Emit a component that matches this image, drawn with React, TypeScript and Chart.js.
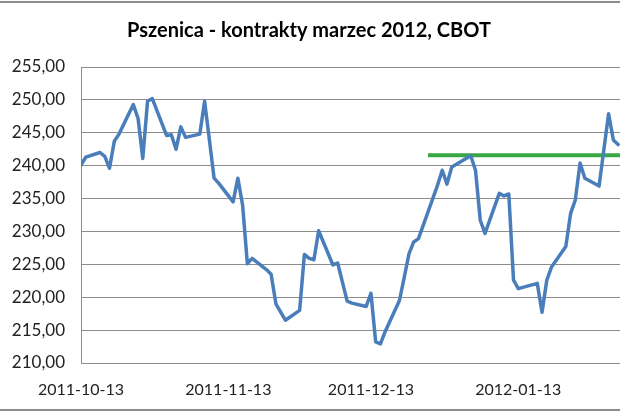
import React, { useEffect, useRef } from "react";
import { Chart, registerables } from "chart.js";

Chart.register(...registerables);

const chartTitle = "Pszenica - kontrakty marzec 2012, CBOT";
const originDate = "2011-10-13";

const priceDates = [
  "2011-10-13", "2011-10-14", "2011-10-17", "2011-10-18", "2011-10-19", "2011-10-20", "2011-10-21",
  "2011-10-24", "2011-10-25", "2011-10-26", "2011-10-27", "2011-10-28", "2011-10-31",
  "2011-11-01", "2011-11-02", "2011-11-03", "2011-11-04", "2011-11-07", "2011-11-08", "2011-11-09",
  "2011-11-10", "2011-11-11", "2011-11-14", "2011-11-15", "2011-11-16", "2011-11-17", "2011-11-18",
  "2011-11-21", "2011-11-22", "2011-11-23", "2011-11-25", "2011-11-28", "2011-11-29", "2011-11-30",
  "2011-12-01", "2011-12-02", "2011-12-05", "2011-12-06", "2011-12-07", "2011-12-08", "2011-12-09",
  "2011-12-12", "2011-12-13", "2011-12-14", "2011-12-15", "2011-12-16", "2011-12-19", "2011-12-20",
  "2011-12-21", "2011-12-22", "2011-12-23", "2011-12-27", "2011-12-28", "2011-12-29", "2011-12-30",
  "2012-01-03", "2012-01-04", "2012-01-05", "2012-01-06", "2012-01-09", "2012-01-10", "2012-01-11",
  "2012-01-12", "2012-01-13", "2012-01-17", "2012-01-18", "2012-01-19", "2012-01-20", "2012-01-23",
  "2012-01-24", "2012-01-25", "2012-01-26", "2012-01-27", "2012-01-30", "2012-01-31", "2012-02-01",
  "2012-02-02", "2012-02-03",
];

const prices = [
  240.1, 241.3, 242.0, 241.4, 239.6, 243.7, 244.8,
  249.3, 247.2, 241.1, 249.8, 250.2, 244.6,
  244.7, 242.5, 245.9, 244.3, 244.8, 249.8, 244.0,
  238.1, 237.3, 234.5, 238.1, 234.0, 225.1, 225.9,
  224.2, 223.5, 219.0, 216.5, 218.0, 226.5, 225.9,
  225.7, 230.1, 224.9, 225.2, 222.3, 219.4, 219.1,
  218.6, 220.6, 213.2, 212.9, 214.8, 219.5, 223.0,
  226.6, 228.4, 228.9, 237.0, 239.3, 237.2, 239.8,
  241.5, 239.3, 231.7, 229.7, 235.8, 235.4, 235.7,
  222.6, 221.3, 222.1, 217.7, 222.6, 224.6, 227.7,
  232.7, 234.8, 240.4, 238.1, 236.9, 242.4, 247.9,
  243.9, 243.2,
];

const levelDates = ["2011-12-25", "2012-02-10"];
const levelValues = [241.6, 241.6];

const xTickDates = ["2011-10-13", "2011-11-13", "2011-12-13", "2012-01-13"];
const visibleDays = 113.4;
const yMin = 210;
const yMax = 255;
const yStep = 5;

function dayOf(s: string): number {
  const [y, m, d] = s.split("-").map(Number);
  const [y0, m0, d0] = originDate.split("-").map(Number);
  return Math.round((Date.UTC(y, m - 1, d) - Date.UTC(y0, m0 - 1, d0)) / 86400000);
}

const FONT = "Lato, 'Open Sans', sans-serif";

const titlePlugin = {
  id: "customTitle",
  afterDraw(chart: any) {
    const ctx = chart.ctx;
    ctx.save();
    ctx.font = `bold 20px ${FONT}`;
    ctx.fillStyle = "#000";
    ctx.textAlign = "center";
    ctx.textBaseline = "middle";
    ctx.fillText(chartTitle, 309, 31);
    ctx.restore();
  },
};

const framePlugin = {
  id: "frame",
  beforeDraw(chart: any) {
    const ctx = chart.ctx;
    ctx.save();
    ctx.fillStyle = "#fff";
    ctx.fillRect(0, 0, chart.width, chart.height);
    ctx.fillStyle = "#8c8c8c";
    ctx.fillRect(0, 1, chart.width, 2);
    ctx.fillRect(0, 409, chart.width, 2);
    ctx.restore();
  },
};

export default function App() {
  const ref = useRef<HTMLCanvasElement | null>(null);

  useEffect(() => {
    if (!ref.current) return;
    const xTickDays = xTickDates.map(dayOf);
    const chart = new Chart(ref.current, {
      type: "line",
      data: {
        datasets: [
          {
            data: priceDates.map((d, i) => ({ x: dayOf(d), y: prices[i] })),
            borderColor: "#4A7EBB",
            borderWidth: 3.5,
            pointRadius: 0,
            tension: 0,
            borderJoinStyle: "round",
            borderCapStyle: "round",
          },
          {
            data: levelDates.map((d, i) => ({ x: dayOf(d), y: levelValues[i] })),
            borderColor: "#38A845",
            borderWidth: 4,
            pointRadius: 0,
            tension: 0,
          },
        ],
      },
      options: {
        animation: false,
        responsive: false,
        maintainAspectRatio: false,
        events: [],
        layout: { padding: { top: 67, right: 0, left: 0, bottom: 0 } },
        plugins: {
          legend: { display: false },
          tooltip: { enabled: false },
          title: { display: false },
        },
        scales: {
          x: {
            type: "linear",
            min: 0,
            max: visibleDays,
            afterBuildTicks: (s: any) => {
              s.ticks = xTickDays.map((v) => ({ value: v }));
            },
            afterFit: (s: any) => {
              s.height = 50;
            },
            ticks: {
              autoSkip: false,
              maxRotation: 0,
              padding: 17,
              color: "#222",
              font: { family: FONT, size: 16 },
              callback: (v: any) => {
                const idx = xTickDays.indexOf(Number(v));
                return idx >= 0 ? xTickDates[idx] : "";
              },
            },
            grid: { display: false, drawTicks: false },
            border: { display: true, color: "#8c8c8c", width: 1 },
          },
          y: {
            min: yMin,
            max: yMax,
            afterFit: (s: any) => {
              s.width = 81;
            },
            ticks: {
              stepSize: yStep,
              padding: 16,
              color: "#222",
              font: { family: FONT, size: 17 },
              callback: (v: any) => Number(v).toFixed(2).replace(".", ","),
            },
            grid: { color: "#8c8c8c", lineWidth: 1, drawTicks: false },
            border: { display: true, color: "#8c8c8c", width: 1 },
          },
        },
      },
      plugins: [framePlugin, titlePlugin],
    } as any);
    return () => chart.destroy();
  }, []);

  return (
    <div style={{ position: "fixed", left: 0, top: 0, width: 620, height: 413, overflow: "hidden", background: "#fff" }}>
      <canvas ref={ref} width={620} height={413} style={{ display: "block", width: 620, height: 413 }} />
    </div>
  );
}
